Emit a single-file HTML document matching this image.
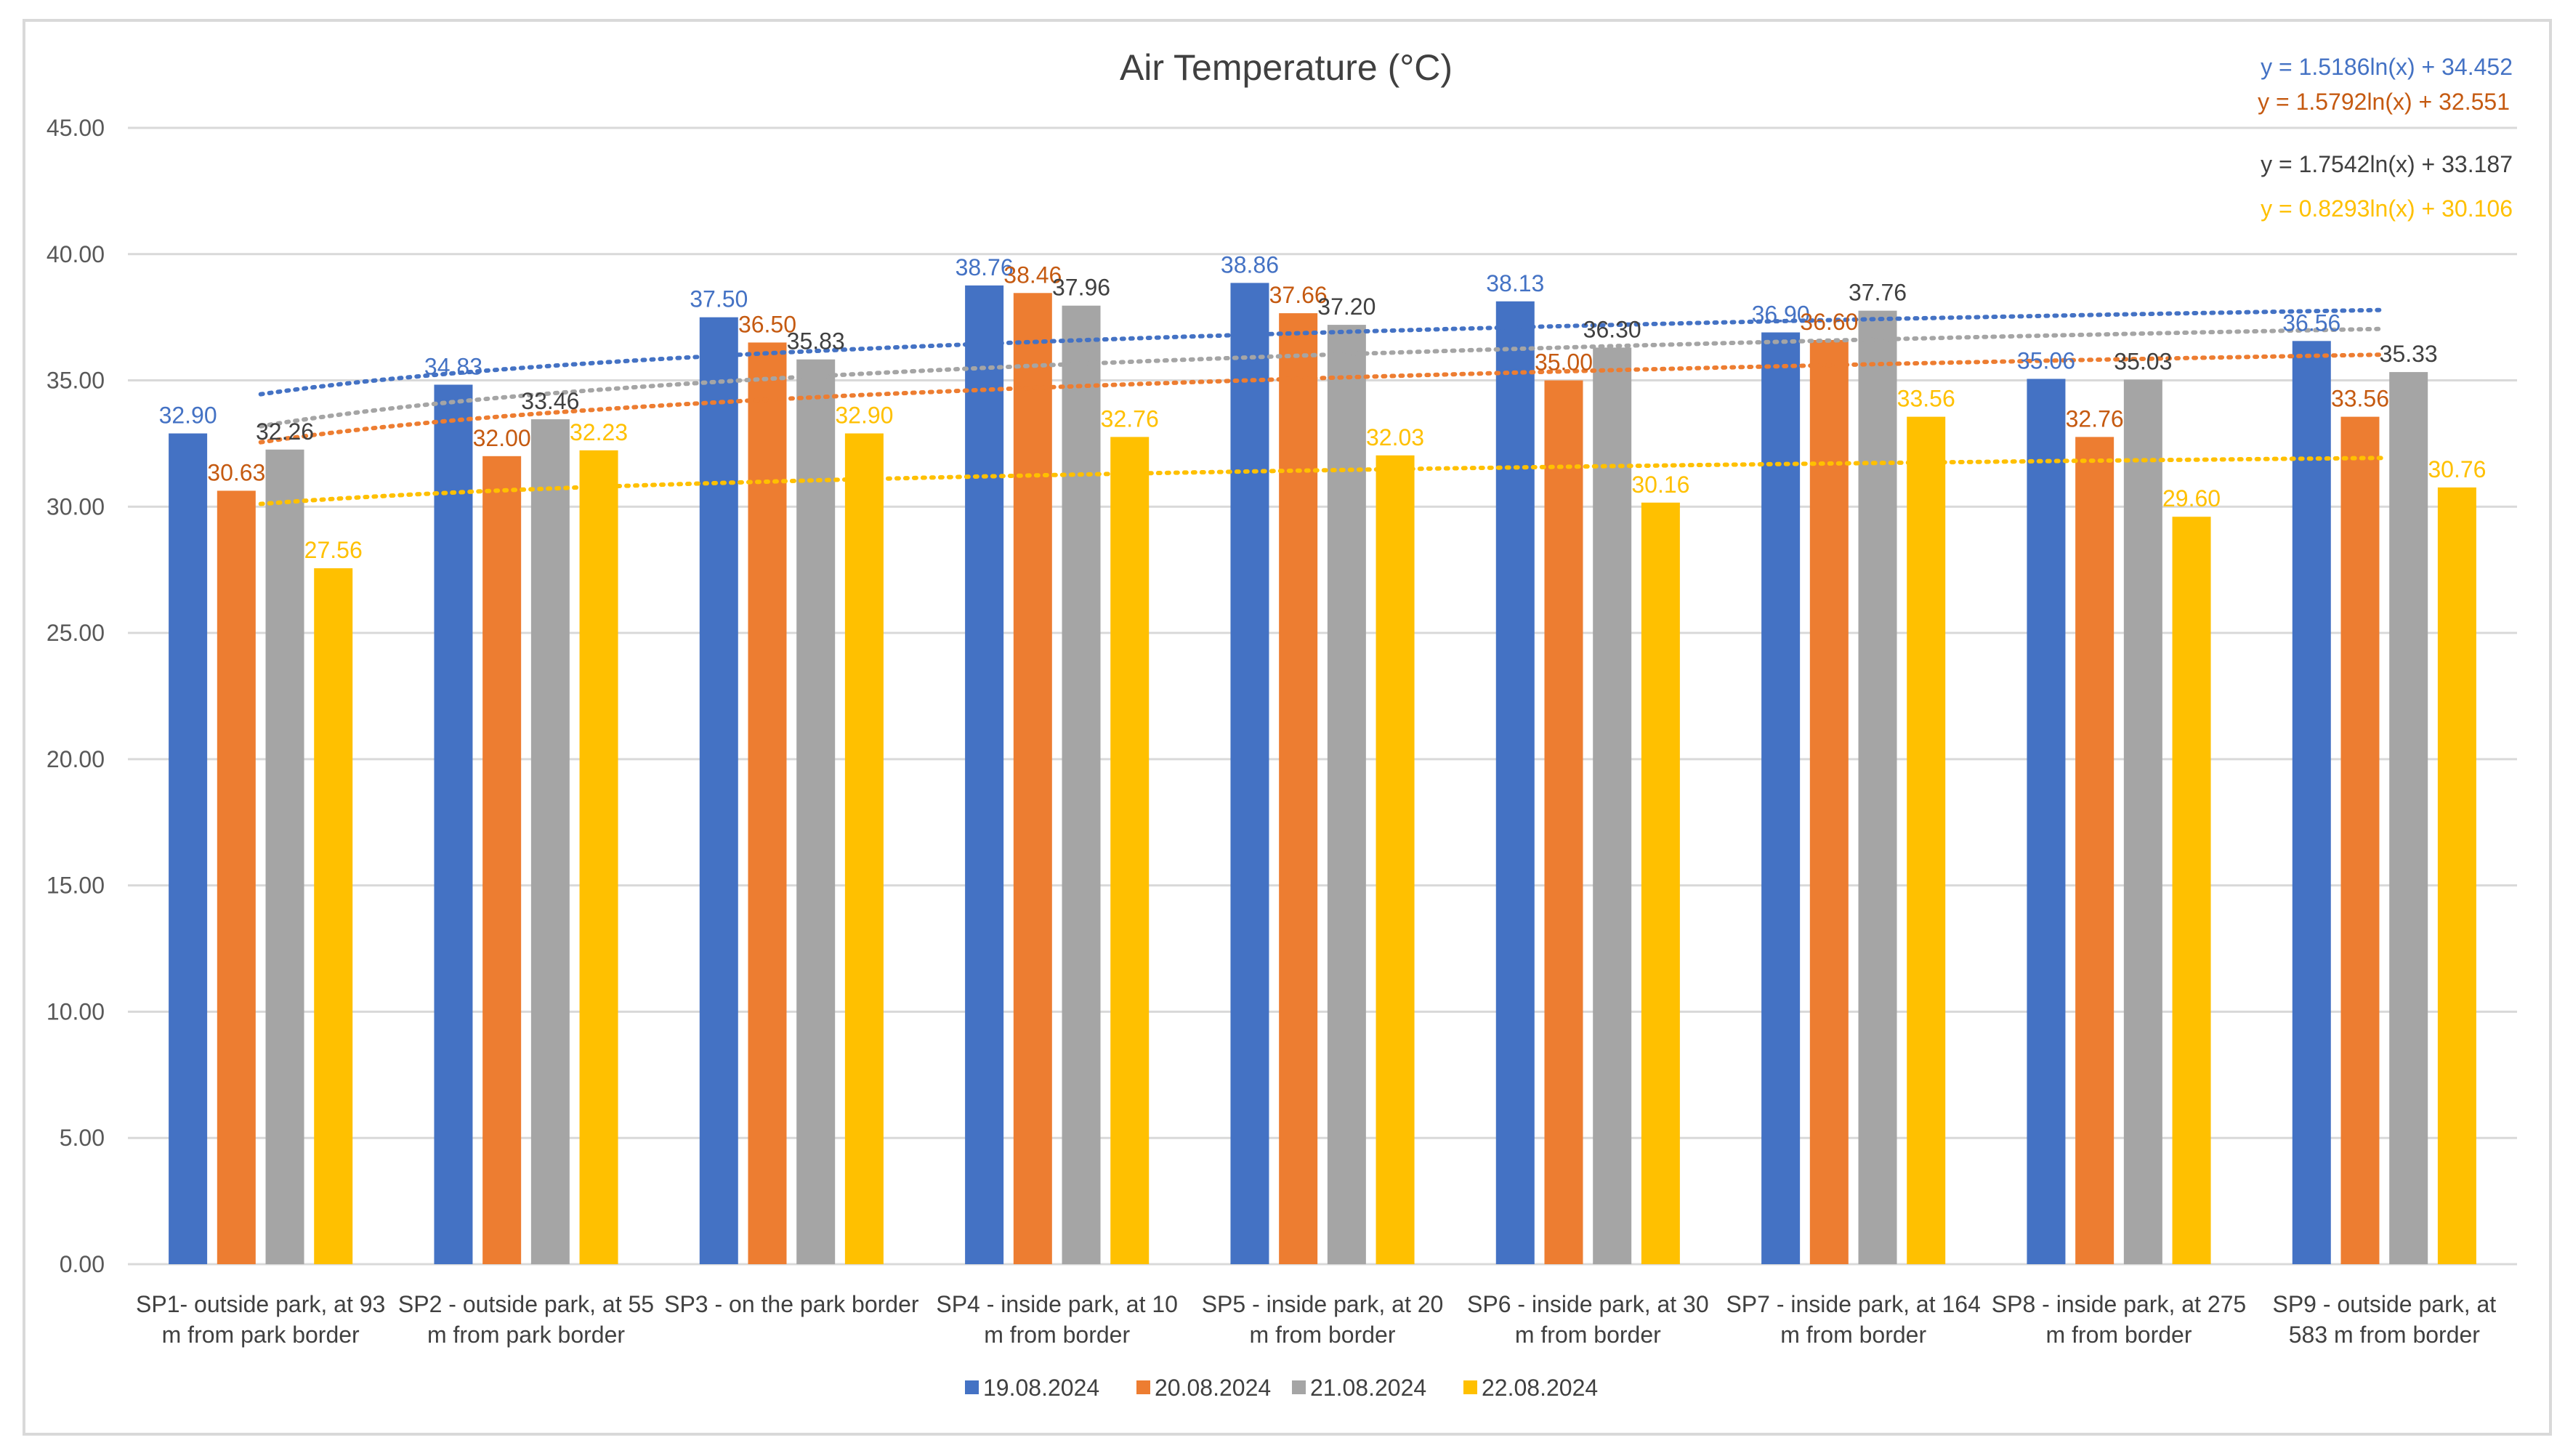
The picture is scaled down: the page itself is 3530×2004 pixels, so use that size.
<!DOCTYPE html>
<html><head><meta charset="utf-8"><style>
html,body{margin:0;padding:0;background:#fff;}
svg{display:block;font-family:"Liberation Sans",sans-serif;}
</style></head><body>
<svg id="chart" width="3530" height="2004" viewBox="0 0 3530 2004" xmlns="http://www.w3.org/2000/svg">
<rect x="33" y="28" width="3477" height="1946" fill="#fff" stroke="#d9d9d9" stroke-width="4"/>
<text x="1770" y="110" text-anchor="middle" font-size="50" fill="#404040">Air Temperature (°C)</text>
<g id="grid"></g><g id="bars"></g><g id="trends"></g><g id="labels"></g><g id="cats"></g>
<g id="eqs">
<text x="3458" y="103" text-anchor="end" font-size="32" fill="#4472C4">y = 1.5186ln(x) + 34.452</text>
<text x="3454" y="151" text-anchor="end" font-size="32" fill="#C55A11">y = 1.5792ln(x) + 32.551</text>
<text x="3458" y="237" text-anchor="end" font-size="32" fill="#404040">y = 1.7542ln(x) + 33.187</text>
<text x="3458" y="298" text-anchor="end" font-size="32" fill="#FFC000">y = 0.8293ln(x) + 30.106</text>
</g>
<g id="legend"></g>
</svg>
<script>
const categories=[["SP1- outside park, at 93","m from park border"],["SP2 - outside park, at 55","m from park border"],["SP3 - on the park border",""],["SP4 - inside park, at 10","m from border"],["SP5 - inside park, at 20","m from border"],["SP6 - inside park, at 30","m from border"],["SP7 - inside park, at 164","m from border"],["SP8 - inside park, at 275","m from border"],["SP9 - outside park, at","583 m from border"]];
const seriesNames=["19.08.2024","20.08.2024","21.08.2024","22.08.2024"];
const s1=[32.90,34.83,37.50,38.76,38.86,38.13,36.90,35.06,36.56];
const s2=[30.63,32.00,36.50,38.46,37.66,35.00,36.60,32.76,33.56];
const s3=[32.26,33.46,35.83,37.96,37.20,36.30,37.76,35.03,35.33];
const s4=[27.56,32.23,32.90,32.76,32.03,30.16,33.56,29.60,30.76];
const trendA=[1.5186,1.5792,1.7542,0.8293];
const trendB=[34.452,32.551,33.187,30.106];
const yTicks=[0,5,10,15,20,25,30,35,40,45];
const series=[s1,s2,s3,s4];
const colors=["#4472C4","#ED7D31","#A5A5A5","#FFC000"];
const labelColors=["#4472C4","#C55A11","#404040","#FFC000"];
const X0=176,X1=3464,Y0=1740,Y45=176;
const catW=(X1-X0)/categories.length;
const y=v=>Y0-(v/45)*(Y0-Y45);
const cx=i=>X0+catW*(i+0.5);
const barW=53,step=66.7;
const bx=(i,s)=>cx(i)+(s-1.5)*step-barW/2;
const NS="http://www.w3.org/2000/svg";
function mk(tag,attrs,parent,txt){const e=document.createElementNS(NS,tag);for(const k in attrs)e.setAttribute(k,attrs[k]);if(txt!==undefined)e.textContent=txt;document.getElementById(parent).appendChild(e);return e;}
yTicks.forEach(t=>{
  const l=mk('line',{x1:X0,x2:X1,y1:y(t),y2:y(t),stroke:'#d9d9d9','stroke-width':3},'grid');
  
  
  const tx=mk('text',{x:144,y:y(t)+11,'text-anchor':'end','font-size':32,fill:'#595959'},'grid',t.toFixed(2));
  
  
});
series.forEach((s,si)=>{
  s.forEach((v,i)=>{
    const r=mk('rect',{x:bx(i,si),y:y(v),width:barW,height:Y0-y(v),fill:colors[si]},'bars');
    
    
    const t=mk('text',{x:bx(i,si)+barW/2,y:y(v)-14,'text-anchor':'middle','font-size':32,fill:labelColors[si]},'labels',v.toFixed(2));
    
    
  });
  let pts=[];
  for(let k=0;k<=80;k++){const xi=1+k*(categories.length-1)/80;const vv=trendA[si]*Math.log(xi)+trendB[si];pts.push((cx(xi-1)).toFixed(1)+","+y(vv).toFixed(1));}
  const pl=mk('polyline',{points:pts.join(' '),fill:'none',stroke:colors[si],'stroke-width':6,'stroke-dasharray':'3 9','stroke-linecap':'round'},'trends');
  
  
});
categories.forEach((c,i)=>{
  c.forEach((line,li)=>{
    if(!line)return;
    const t=mk('text',{x:cx(i),y:1806+li*42,'text-anchor':'middle','font-size':32,fill:'#404040'},'cats',line);
    
    
  });
});
const legX=[1328,1564,1778,2014];
seriesNames.forEach((n,i)=>{
  const r=mk('rect',{x:legX[i],y:1900,width:19,height:19,fill:colors[i]},'legend');
  
  
  const t=mk('text',{x:legX[i]+25,y:1921,'font-size':32,fill:'#404040'},'legend',n);
  
  
});
</script>
</body></html>
